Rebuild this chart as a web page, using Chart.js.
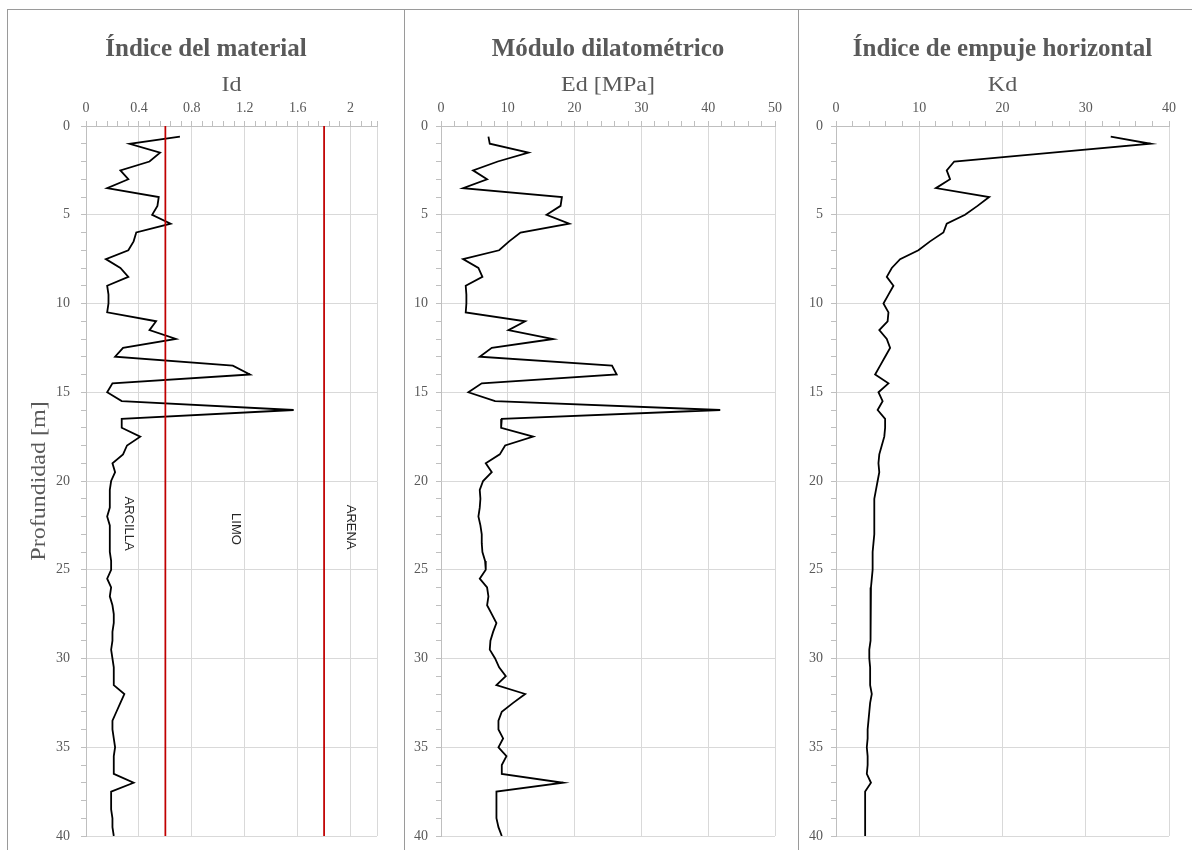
<!DOCTYPE html>
<html>
<head>
<meta charset="utf-8">
<script src="https://cdn.jsdelivr.net/npm/chart.js@4.4.0/dist/chart.umd.min.js"></script>
<style>
  body { margin: 0; background: #fff; width: 1192px; height: 850px; overflow: hidden; position: relative; }
  .rule { position: absolute; background: #9a9a9a; }
  canvas { position: absolute; top: 10px; }
</style>
</head>
<body>
<div class="rule" style="left:7px;top:9px;width:1185px;height:1px"></div>
<div class="rule" style="left:7px;top:9px;width:1px;height:841px"></div>
<div class="rule" style="left:404px;top:9px;width:1px;height:841px"></div>
<div class="rule" style="left:798px;top:9px;width:1px;height:841px"></div>
<canvas id="idChart" width="396" height="840" style="left:8px"></canvas>
<canvas id="edChart" width="393" height="840" style="left:405px"></canvas>
<canvas id="kdChart" width="393" height="840" style="left:799px"></canvas>
<script>
// Profundidad de cada lectura del ensayo DMT (m)
const depth = [0.6, 1, 1.5, 2, 2.5, 3, 3.5, 4, 4.5, 5,
  5.5, 6, 6.5, 7, 7.5, 8, 8.5, 9, 9.5, 10,
  10.5, 11, 11.5, 12, 12.5, 13, 13.5, 14, 14.5, 15,
  15.5, 16, 16.5, 17, 17.5, 18, 18.5, 19, 19.5, 20,
  20.5, 21, 21.5, 22, 22.5, 23, 23.5, 24, 24.5, 25,
  25.5, 26, 26.5, 27, 27.5, 28, 28.5, 29, 29.5, 30,
  30.5, 31, 31.5, 32, 32.5, 33, 33.5, 34, 34.5, 35,
  35.5, 36, 36.5, 37, 37.5, 38, 38.5, 39, 39.5, 40];

// Índice del material Id
const idValues = [0.71, 0.33, 0.56, 0.48, 0.26, 0.32, 0.16, 0.55, 0.54, 0.50,
  0.64, 0.38, 0.36, 0.32, 0.15, 0.26, 0.32, 0.16, 0.17, 0.17,
  0.16, 0.53, 0.48, 0.68, 0.28, 0.22, 1.11, 1.24, 0.20, 0.16,
  0.27, 1.57, 0.27, 0.27, 0.41, 0.31, 0.28, 0.20, 0.22, 0.19,
  0.18, 0.18, 0.18, 0.16, 0.18, 0.18, 0.18, 0.18, 0.19, 0.19,
  0.16, 0.19, 0.18, 0.20, 0.21, 0.21, 0.20, 0.20, 0.19, 0.20,
  0.21, 0.21, 0.21, 0.29, 0.26, 0.23, 0.20, 0.20, 0.21, 0.22,
  0.21, 0.21, 0.21, 0.36, 0.19, 0.19, 0.19, 0.20, 0.20, 0.21];

// Módulo dilatométrico Ed (MPa)
const edValues = [7.1, 7.3, 13.1, 8.5, 4.8, 6.9, 3.3, 18.1, 17.9, 15.8,
  19.2, 11.9, 10.2, 8.7, 3.3, 5.6, 6.2, 3.7, 3.8, 3.8,
  3.7, 12.6, 10.1, 16.8, 7.6, 5.8, 25.6, 26.3, 6.1, 4.1,
  8.1, 41.8, 9.1, 9.0, 13.8, 9.6, 8.8, 6.7, 7.6, 6.3,
  5.8, 5.9, 5.8, 5.6, 5.9, 6.1, 6.1, 6.2, 6.6, 6.7,
  5.8, 6.9, 7.1, 6.9, 7.6, 8.3, 7.8, 7.4, 7.3, 8.1,
  8.7, 9.7, 8.3, 12.6, 10.8, 9.1, 8.6, 8.6, 9.3, 8.6,
  9.8, 9.1, 9.1, 18.3, 8.3, 8.3, 8.3, 8.3, 8.6, 9.1];

// Índice de empuje horizontal Kd
const kdValues = [33.0, 37.8, 26.0, 14.2, 13.3, 13.7, 12.0, 18.4, 17.0, 15.5,
  13.3, 12.9, 11.3, 9.9, 7.7, 6.7, 6.1, 6.9, 6.3, 5.7,
  6.3, 6.2, 5.2, 6.1, 6.5, 5.9, 5.3, 4.7, 6.3, 5.1,
  5.6, 5.0, 5.9, 5.9, 5.8, 5.5, 5.2, 5.1, 5.2, 5.0,
  4.8, 4.6, 4.6, 4.6, 4.6, 4.6, 4.5, 4.4, 4.4, 4.4,
  4.3, 4.2, 4.2, 4.2, 4.1, 4.1, 4.2, 4.1, 4.0, 4.0,
  4.1, 4.1, 4.1, 4.3, 4.1, 4.0, 3.9, 3.8, 3.8, 3.7,
  3.8, 3.8, 3.7, 4.2, 3.5, 3.5, 3.5, 3.5, 3.5, 3.5];

// Límites de clasificación por Id y rótulos de cada zona
const idLimits = [0.6, 1.8];
const soilZones = ['ARCILLA', 'LIMO', 'ARENA'];
const zoneId = [0.32, 1.13, 2.0];
const zoneDepth = [22.4, 22.7, 22.6];

// Etiquetas de los ejes
const depthTicks = [0, 5, 10, 15, 20, 25, 30, 35, 40];
const idTicks = [0, 0.4, 0.8, 1.2, 1.6, 2];
const edTicks = [0, 10, 20, 30, 40, 50];
const kdTicks = [0, 10, 20, 30, 40];

const grey = '#595959';
const serif = '"Liberation Serif", "Times New Roman", serif';

function tickValues(max, step) {
  const out = [];
  for (let i = 0; i * step < max - 1e-9; i++) out.push(Math.round(i * step * 1000) / 1000);
  out.push(max);
  return out;
}

function findTick(list, v) {
  return list.find(t => Math.abs(t - v) < 1e-6);
}

function gridFor(labels, max) {
  return {
    color: c => (c.tick && (findTick(labels, c.tick.value) !== undefined || Math.abs(c.tick.value - max) < 1e-6))
      ? '#d9d9d9' : 'rgba(0,0,0,0)',
    tickColor: '#bfbfbf',
    tickLength: 5
  };
}

function depthAxis(width, pad) {
  return {
    type: 'linear',
    reverse: true,
    min: 0,
    max: 40,
    afterFit: s => { s.width = width; s.paddingTop = 0; s.paddingBottom = 0; },
    afterBuildTicks: s => { s.ticks = tickValues(40, 1).map(v => ({ value: v })); },
    ticks: {
      autoSkip: false,
      padding: pad,
      color: grey,
      font: { family: serif, size: 14 },
      callback: v => { const t = findTick(depthTicks, v); return t === undefined ? '' : String(t); }
    },
    grid: gridFor(depthTicks, 40),
    border: { color: '#bfbfbf' }
  };
}

function valueAxis(labels, max, minor) {
  return {
    type: 'linear',
    position: 'top',
    min: 0,
    max: max,
    afterFit: s => { s.height = 55; },
    afterBuildTicks: s => { s.ticks = tickValues(max, minor).map(v => ({ value: v })); },
    ticks: {
      autoSkip: false,
      maxRotation: 0,
      padding: 4,
      color: grey,
      font: { family: serif, size: 14 },
      callback: v => { const t = findTick(labels, v); return t === undefined ? '' : String(t); }
    },
    grid: gridFor(labels, max),
    border: { color: '#bfbfbf' }
  };
}

// Título del panel y títulos de ejes (texto algo ensanchado, como en la hoja original)
const panelText = {
  id: 'panelText',
  afterDraw(chart, args, opts) {
    const { ctx, chartArea } = chart;
    const midX = (chartArea.left + chartArea.right) / 2;
    const midY = (chartArea.top + chartArea.bottom) / 2;
    ctx.save();
    ctx.fillStyle = grey;
    ctx.textAlign = 'center';

    ctx.font = 'bold 25px ' + serif;
    ctx.textBaseline = 'alphabetic';
    ctx.fillText(opts.title, opts.onCanvas ? chart.width / 2 : midX, 46);

    ctx.font = '20px ' + serif;
    ctx.textBaseline = 'middle';
    ctx.save();
    ctx.translate(midX, 76);
    ctx.scale(1.2, 1);
    ctx.fillText(opts.xTitle, 0, 0);
    ctx.restore();

    if (opts.yTitle) {
      ctx.save();
      ctx.translate(32, midY);
      ctx.rotate(-Math.PI / 2);
      ctx.scale(1.2, 1);
      ctx.fillText(opts.yTitle, 0, 0);
      ctx.restore();
    }
    ctx.restore();
  }
};

// Rótulos verticales de las zonas de suelo
const zoneLabels = {
  id: 'zoneLabels',
  afterDatasetsDraw(chart) {
    const { ctx, scales: { x, y } } = chart;
    ctx.save();
    ctx.font = '13px "Liberation Sans", Arial, sans-serif';
    ctx.fillStyle = '#262626';
    ctx.textAlign = 'center';
    ctx.textBaseline = 'middle';
    soilZones.forEach((name, i) => {
      ctx.save();
      ctx.translate(x.getPixelForValue(zoneId[i]), y.getPixelForValue(zoneDepth[i]));
      ctx.rotate(Math.PI / 2);
      ctx.fillText(name, 0, 0);
      ctx.restore();
    });
    ctx.restore();
  }
};

function profile(values) {
  return {
    data: depth.map((d, i) => ({ x: values[i], y: d })),
    showLine: true,
    borderColor: '#000',
    borderWidth: 1.8,
    pointRadius: 0,
    tension: 0,
    order: 1
  };
}

function makePanel(id, datasets, xAxis, yAxis, padRight, text, extra) {
  return new Chart(document.getElementById(id), {
    type: 'scatter',
    data: { datasets: datasets },
    options: {
      responsive: false,
      animation: false,
      layout: { padding: { top: 61, left: 0, right: padRight, bottom: 14 } },
      scales: { x: xAxis, y: yAxis },
      plugins: {
        legend: { display: false },
        tooltip: { enabled: false },
        panelText: text
      }
    },
    plugins: [panelText].concat(extra || [])
  });
}

const limitLines = idLimits.map(v => ({
  data: [{ x: v, y: 0 }, { x: v, y: 40 }],
  showLine: true,
  borderColor: '#c00000',
  borderWidth: 1.75,
  pointRadius: 0,
  order: 0
}));

makePanel('idChart', limitLines.concat([profile(idValues)]),
  valueAxis(idTicks, 2.2, 0.08), depthAxis(78, 11), 27,
  { title: 'Índice del material', onCanvas: true, xTitle: 'Id', yTitle: 'Profundidad [m]' },
  [zoneLabels]);

makePanel('edChart', [profile(edValues)],
  valueAxis(edTicks, 50, 2), depthAxis(36, 8), 23,
  { title: 'Módulo dilatométrico', xTitle: 'Ed [MPa]' });

makePanel('kdChart', [profile(kdValues)],
  valueAxis(kdTicks, 40, 2), depthAxis(37, 8), 23,
  { title: 'Índice de empuje horizontal', xTitle: 'Kd' });
</script>
</body>
</html>
